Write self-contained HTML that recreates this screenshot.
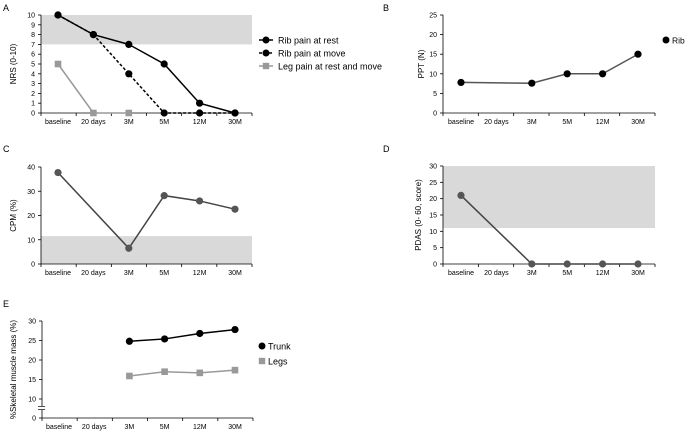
<!DOCTYPE html>
<html><head><meta charset="utf-8"><style>
html,body{margin:0;padding:0;background:#fff}
svg{display:block;font-family:"Liberation Sans",sans-serif}
</style></head><body>
<svg id="c" width="685" height="437" viewBox="0 0 685 437"></svg>
<script>
const categories = ["baseline","20 days","3M","5M","12M","30M"];
const nrsRest = [10,8,7,5,1,0];
const nrsMove = [10,8,4,0,0,0];
const nrsLeg = [5,0,0,null,null,null];
const pptRib = [7.8,null,7.6,10,10,15];
const cpm = [37.7,null,6.5,28.2,26,22.6];
const pdas = [21,null,0,0,0,0];
const smmTrunk = [null,null,24.8,25.4,26.8,27.8];
const smmLegs = [null,null,15.9,17.0,16.7,17.4];
const ticksA = [0,1,2,3,4,5,6,7,8,9,10];
const ticksB = [0,5,10,15,20,25];
const ticksC = [0,10,20,30,40];
const ticksD = [0,5,10,15,20,25,30];
const ticksE = [0,10,15,20,25,30];

const svg=document.getElementById('c');
const NS='http://www.w3.org/2000/svg';
function mk(tag,attrs,parent){const e=document.createElementNS(NS,tag);for(const k in attrs)e.setAttribute(k,attrs[k]);(parent||svg).appendChild(e);return e;}
function txt(s,x,y,size,anchor,parent,extra){const t=mk('text',Object.assign({x:x,y:y,'font-size':size,'text-anchor':anchor||'start',fill:'#000'},extra||{}),parent);t.textContent=s;return t;}

function panel(o){
  const g=mk('g',{});
  
  
  const xs=i=>o.x0+(o.x1-o.x0)*i/5;
  const ys=o.yfn;
  if(o.band){const r=mk('rect',{x:o.ax,y:ys(o.band[1]),width:o.right-o.ax,height:ys(o.band[0])-ys(o.band[1]),fill:'#d9d9d9'},g);
    }
  const ya=mk('line',{x1:o.ax,x2:o.ax,y1:ys(o.ticks[o.ticks.length-1]),y2:o.ybot,stroke:'#000','stroke-width':0.8},g);
  
  const xa=mk('line',{x1:o.ax,x2:o.right,y1:o.ybot,y2:o.ybot,stroke:'#000','stroke-width':0.8},g);
  
  o.ticks.forEach(v=>{const y=ys(v);mk('line',{x1:o.ax-3,x2:o.ax,y1:y,y2:y,stroke:'#000','stroke-width':0.8},g);
    const t=txt(String(v),o.ax-6,y+2.5,7,'end',g);});
  for(let i=0;i<=6;i++){const x=o.ax+(o.right-o.ax)*i/6;mk('line',{x1:x,x2:x,y1:o.ybot,y2:o.ybot+3,stroke:'#000','stroke-width':0.8},g);}
  categories.forEach((c,i)=>{const t=txt(c,xs(i),o.ybot+11,7,'middle',g);});
  const yt=txt(o.ytitle,0,0,8,'middle',g,{transform:`translate(${o.tx},${(ys(o.ticks[o.ticks.length-1])+o.ybot)/2}) rotate(-90)`});
  
  const L=txt(o.letter,o.lx,o.ly,9,'start',g);
  o.series.forEach(s=>{
    const sg=mk('g',{},g);
    const pts=[];s.data.forEach((v,i)=>{if(v!==null)pts.push([xs(i),ys(v)]);});
    const p=mk('polyline',{points:pts.map(p=>p.join(',')).join(' '),fill:'none',stroke:s.line,'stroke-width':1.5,'stroke-dasharray':s.dash||'none'},sg);
    
    pts.forEach(pt=>{let m;
      if(s.square){m=mk('rect',{x:pt[0]-3.3,y:pt[1]-3.3,width:6.6,height:6.6,fill:s.mark},sg);}
      else{m=mk('circle',{cx:pt[0],cy:pt[1],r:3.6,fill:s.mark},sg);}
      });
  });
  return g;
}
function lin(v0,y0,v1,y1){return v=>y0+(v-v0)*(y1-y0)/(v1-v0);}

panel({name:'panel-a-nrs',letter:'A',lx:3,ly:11,ax:41,right:252,ybot:113,x0:58,x1:235,tx:16,yfn:lin(0,113,10,15),ticks:ticksA,band:[7,10],ytitle:'NRS (0-10)',
  series:[{name:'rib-pain-rest',data:nrsRest,line:'#000',mark:'#000'},{name:'rib-pain-move',data:nrsMove,line:'#000',mark:'#000',dash:'3,2'},{name:'leg-pain',data:nrsLeg,line:'#999',mark:'#999',square:true}]});
panel({name:'panel-b-ppt',letter:'B',lx:383,ly:11,ax:443,right:655,ybot:113,x0:461,x1:638,tx:424,yfn:lin(0,113,25,15),ticks:ticksB,ytitle:'PPT (N)',
  series:[{name:'rib-ppt',data:pptRib,line:'#555',mark:'#000'}]});
panel({name:'panel-c-cpm',letter:'C',lx:3,ly:152,ax:41,right:252,ybot:264,x0:58,x1:235,tx:16,yfn:lin(0,264,40,167),ticks:ticksC,band:[0,11.5],ytitle:'CPM (%)',
  series:[{name:'cpm-series',data:cpm,line:'#444',mark:'#555'}]});
panel({name:'panel-d-pdas',letter:'D',lx:383,ly:152,ax:443,right:655,ybot:264,x0:461,x1:638,tx:421,yfn:lin(0,264,30,166),ticks:ticksD,band:[11,30],ytitle:'PDAS (0- 60, score)',
  series:[{name:'pdas-series',data:pdas,line:'#444',mark:'#555'}]});
const eScale=v=>v<=10?418-(v/10)*19:399-(v-10)*3.9;
const pe=panel({name:'panel-e-muscle',letter:'E',lx:3,ly:307,ax:42,right:253,ybot:418,x0:59,x1:235,tx:16,yfn:eScale,ticks:ticksE,ytitle:'%Skeletal muscle mass (%)',
  series:[{name:'trunk-series',data:smmTrunk,line:'#000',mark:'#000'},{name:'legs-series',data:smmLegs,line:'#999',mark:'#999',square:true}]});
const br=mk('rect',{x:38,y:406,width:8,height:4,fill:'#fff'},pe);

mk('line',{x1:38,x2:45,y1:406.5,y2:406.5,stroke:'#000','stroke-width':0.7},pe);
mk('line',{x1:38,x2:45,y1:409.5,y2:409.5,stroke:'#000','stroke-width':0.7},pe);

function legend(items,x,y0,dy,name,fs){const g=mk('g',{});
  items.forEach((it,i)=>{const y=y0+i*dy;const eg=mk('g',{},g);
    if(it.line)mk('line',{x1:x-7,x2:x+7,y1:y,y2:y,stroke:it.line,'stroke-width':1.5,'stroke-dasharray':it.dash||'none'},eg);
    if(it.square)mk('rect',{x:x-3.2,y:y-3.2,width:6.4,height:6.4,fill:it.mark},eg);else mk('circle',{cx:x,cy:y,r:3.5,fill:it.mark},eg);
    txt(it.label,x+(it.line?12:6),y+3.3,fs,'start',eg);});}
legend([{label:'Rib pain at rest',line:'#000',mark:'#000'},{label:'Rib pain at move',line:'#000',mark:'#000',dash:'3,2'},{label:'Leg pain at rest and move',line:'#999',mark:'#999',square:true}],266,40,13,'legend-a',9);
legend([{label:'Rib',mark:'#000'}],666,40,13,'legend-b',8.5);
legend([{label:'Trunk',mark:'#000'},{label:'Legs',mark:'#999',square:true}],262,346,15,'legend-e',9);
</script>
</body></html>
